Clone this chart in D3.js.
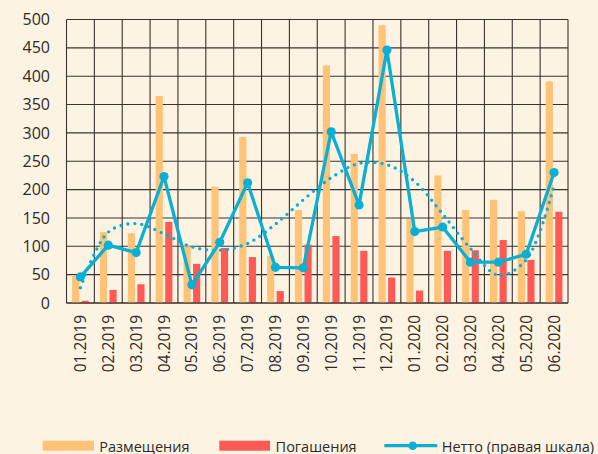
<!DOCTYPE html>
<html>
<head>
<meta charset="utf-8">
<script src="https://cdn.jsdelivr.net/npm/d3@7"></script>
<style>
  body { margin: 0; background: #fdf3e3; }
  svg text { font-family: "Open Sans", sans-serif; fill: #2e2a28; }
</style>
</head>
<body>
<svg id="chart" width="598" height="454"></svg>
<script>
var months = ["01.2019","02.2019","03.2019","04.2019","05.2019","06.2019","07.2019","08.2019","09.2019",
              "10.2019","11.2019","12.2019","01.2020","02.2020","03.2020","04.2020","05.2020","06.2020"];
var placed = [49, 125, 123, 365, 100, 205, 293, 83, 164, 419, 263, 490, 148, 225, 164, 182, 162, 391];
var repaid = [4, 23, 33, 143, 69, 97, 81, 21, 103, 118, 92, 45, 22, 92, 93, 111, 76, 161];
var net = [46, 102, 89, 223, 32, 107, 212, 63, 62, 302, 173, 446, 126, 134, 72, 72, 86, 230];
// dotted trend at each month
var trend = [27, 125, 140, 122, 99, 93, 105, 139, 182, 221, 246, 244, 214, 157, 96, 49, 76, 208];
var yTicks = [0, 50, 100, 150, 200, 250, 300, 350, 400, 450, 500];

var colPlaced = "#ffc378", colRepaid = "#fe5a55", colNet = "#0aafd4";

var svg = d3.select("#chart");
var pLeft = 66.5, pRight = 568, pTop = 19.5, pBottom = 303;

svg.append("rect").attr("width", 598).attr("height", 454).attr("fill", "#fdf3e3");

var x = d3.scaleBand().domain(months).range([pLeft, pRight]);
var xi = d3.scaleBand().domain(["p", "r"]).range([0, 16.7]).paddingInner(0.25);
var y = d3.scaleLinear().domain([0, 500]).range([pBottom, pTop]);
var off = (x.bandwidth() - 16.7) / 2;

// grid
var grid = svg.append("g").attr("stroke", "#3a3330").attr("stroke-width", 1.1);
grid.selectAll(".h").data(yTicks).enter().append("line")
  .attr("x1", pLeft).attr("x2", pRight)
  .attr("y1", function(d){ return y(d); }).attr("y2", function(d){ return y(d); });
grid.selectAll(".v").data(months.concat(["end"])).enter().append("line")
  .attr("x1", function(d, i){ return pLeft + i * x.step(); })
  .attr("x2", function(d, i){ return pLeft + i * x.step(); })
  .attr("y1", pTop).attr("y2", pBottom);

// bars
var g = svg.append("g");
g.selectAll(".bp").data(placed).enter().append("rect")
  .attr("x", function(d, i){ return x(months[i]) + off + xi("p"); })
  .attr("width", xi.bandwidth())
  .attr("y", function(d){ return y(d); })
  .attr("height", function(d){ return y(0) - y(d); })
  .attr("fill", colPlaced);
g.selectAll(".br").data(repaid).enter().append("rect")
  .attr("x", function(d, i){ return x(months[i]) + off + xi("r"); })
  .attr("width", xi.bandwidth())
  .attr("y", function(d){ return y(d); })
  .attr("height", function(d){ return y(0) - y(d); })
  .attr("fill", colRepaid);

svg.append("line").attr("x1", pLeft).attr("x2", pRight).attr("y1", pBottom).attr("y2", pBottom)
  .attr("stroke", "#2e2a28").attr("stroke-width", 1.2);

// trend
var cx = function(d, i){ return x(months[i]) + x.bandwidth() / 2; };
svg.append("path")
  .attr("d", d3.line().x(cx).y(function(d){ return y(d); }).curve(d3.curveCatmullRom)(trend))
  .attr("fill", "none").attr("stroke", colNet).attr("stroke-width", 3.4)
  .attr("stroke-linecap", "round").attr("stroke-dasharray", "0 7");

// net line
svg.append("path")
  .attr("d", d3.line().x(cx).y(function(d){ return y(d); })(net))
  .attr("fill", "none").attr("stroke", colNet).attr("stroke-width", 3.3)
  .attr("stroke-linejoin", "round");
svg.selectAll(".dot").data(net).enter().append("circle")
  .attr("cx", cx).attr("cy", function(d){ return y(d); })
  .attr("r", 4.6).attr("fill", colNet);

// y axis labels
var ya = svg.append("g").attr("transform", "translate(" + pLeft + ",0)")
  .call(d3.axisLeft(y).tickValues(yTicks).tickSize(0).tickPadding(16.5));
ya.select(".domain").remove();
ya.selectAll("text").style("font-size", "16px").style("font-family", "'Open Sans', sans-serif").attr("fill", "#2e2a28");

// x axis labels
var xa = svg.append("g").attr("transform", "translate(0," + pBottom + ")")
  .call(d3.axisBottom(x).tickSize(0));
xa.select(".domain").remove();
xa.selectAll("text")
  .style("font-size", "15.5px").style("font-family", "'Open Sans', sans-serif").attr("fill", "#2e2a28")
  .attr("text-anchor", "end")
  .attr("transform", "rotate(-90)")
  .attr("x", -12).attr("y", 0).attr("dy", "0.36em");

// legend
var leg = svg.append("g").style("font-size", "14.5px");
leg.append("rect").attr("x", 42.7).attr("y", 440.7).attr("width", 51.3).attr("height", 10).attr("fill", colPlaced);
leg.append("text").attr("x", 99.3).attr("y", 451.5).text("Размещения");
leg.append("rect").attr("x", 219.3).attr("y", 440.7).attr("width", 50.7).attr("height", 10).attr("fill", colRepaid);
leg.append("text").attr("x", 275.6).attr("y", 451.5).text("Погашения");
leg.append("line").attr("x1", 384.3).attr("x2", 437.3).attr("y1", 445.7).attr("y2", 445.7)
  .attr("stroke", colNet).attr("stroke-width", 3.3);
leg.append("circle").attr("cx", 412.7).attr("cy", 445.7).attr("r", 4.3).attr("fill", colNet);
leg.append("text").attr("x", 441.7).attr("y", 451.5).text("Нетто (правая шкала)");
</script>
</body>
</html>
